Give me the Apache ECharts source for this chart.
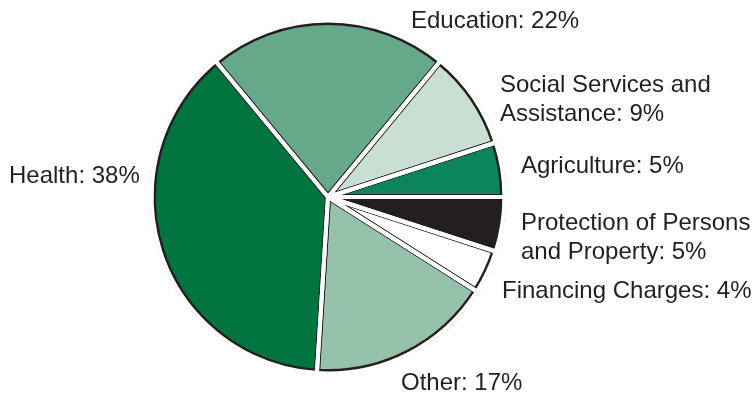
<!DOCTYPE html>
<html>
<head>
<meta charset="utf-8">
<script src="https://cdn.jsdelivr.net/npm/echarts@6/dist/echarts.min.js"></script>
<style>
  html, body { margin: 0; padding: 0; background: #ffffff; }
  #chart { width: 754px; height: 396px; }
</style>
</head>
<body>
<div id="chart"></div>
<script>
// Spending shares by function, in percent (clockwise from Education)
const categories = [
  'Education',
  'Social Services and\nAssistance',
  'Agriculture',
  'Protection of Persons\nand Property',
  'Financing Charges',
  'Other',
  'Health'
];
const shares = [22, 9, 5, 5, 4, 17, 38];
const sliceColors = ['#66a88a', '#c9dfd2', '#0b8559', '#231f20', '#ffffff', '#96c1aa', '#00743f'];

// Where each label's text box sits (left, top) in the canvas
const labelAnchors = [
  [411, 7],
  [500, 71],
  [521, 152],
  [521, 209],
  [502, 277],
  [401, 369],
  [9, 162]
];

const FONT = '"Liberation Sans", Arial, Helvetica, sans-serif';
const CENTER = [328, 197];
const R = 175;
const START = 129.6;

const chart = echarts.init(document.getElementById('chart'), null, { renderer: 'canvas' });

const pieData = (fill) => categories.map((name, i) => ({
  name: name,
  value: shares[i],
  itemStyle: { color: fill ? sliceColors[i] : 'rgba(0,0,0,0)' }
}));

chart.setOption({
  backgroundColor: '#ffffff',
  animation: false,
  textStyle: { fontFamily: FONT },
  series: [
    // filled slices with a wide dark edge
    {
      type: 'pie',
      center: CENTER,
      radius: [0, R],
      startAngle: START,
      clockwise: true,
      silent: true,
      avoidLabelOverlap: false,
      data: pieData(true),
      itemStyle: { borderColor: '#231f20', borderWidth: 6 },
      label: { show: false },
      labelLine: { show: false },
      emphasis: { disabled: true }
    },
    // white separators that leave a thin dark outline on each slice
    {
      type: 'pie',
      center: CENTER,
      radius: [0, R + 1.4],
      startAngle: START,
      clockwise: true,
      silent: true,
      avoidLabelOverlap: false,
      data: pieData(false),
      itemStyle: { borderColor: '#ffffff', borderWidth: 4 },
      label: {
        show: true,
        position: 'outside',
        formatter: '{b}: {c}%',
        color: '#231f20',
        fontSize: 24,
        lineHeight: 29,
        fontFamily: FONT
      },
      labelLine: { show: false },
      labelLayout: function (params) {
        const a = labelAnchors[params.dataIndex];
        return { x: a[0], y: a[1], align: 'left', verticalAlign: 'top' };
      },
      emphasis: { disabled: true }
    }
  ]
});
</script>
</body>
</html>
